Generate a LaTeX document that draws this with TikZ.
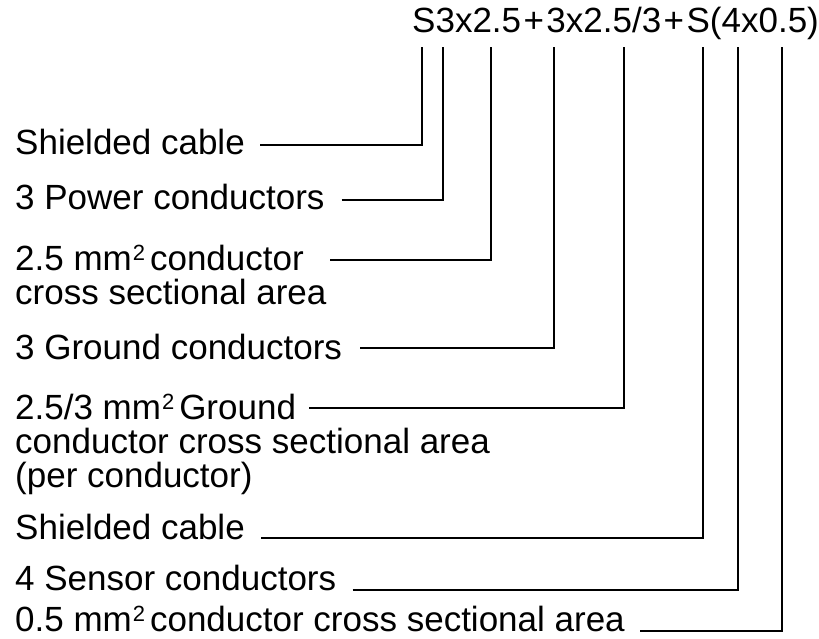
\documentclass[tikz,border=0pt]{standalone}
\usepackage{fontspec}
\setmainfont{Liberation Sans}
\newcommand{\sqm}{mm\hspace{0.03em}\raisebox{10pt}{\fontsize{22}{22}\selectfont 2}\hspace{0.14em}}
\newcommand{\pl}{\hspace{0.07em}+\hspace{0.07em}}
\begin{document}
\begin{tikzpicture}[x=1pt,y=-1pt,
  lbl/.style={anchor=base west, inner sep=0pt, font=\fontsize{35}{35}\selectfont},
  lead/.style={line width=1.8pt, line join=miter}]
\useasboundingbox (0,0) rectangle (819,639);
% code string
\node[lbl] (code) at (412,33) {S3x2.5\pl 3x2.5/3\pl S(4x0.5)};
% tops of the leaders, under the code string
\coordinate (v1) at (421.7,47);
\coordinate (v2) at (442.7,47);
\coordinate (v3) at (490.7,47);
\coordinate (v4) at (554,47);
\coordinate (v5) at (624,47);
\coordinate (v6) at (703.3,47);
\coordinate (v7) at (737.7,47);
\coordinate (v8) at (781.7,47);
% labels
\node[lbl] (l1) at (15,155) {Shielded cable};
\node[lbl] (l2) at (15,210) {3 Power conductors};
\node[lbl] (l3) at (15,270) {2.5 \sqm conductor};
\node[lbl] (l3b) at (15,304) {cross sectional area};
\node[lbl] (l4) at (15,359) {3 Ground conductors};
\node[lbl] (l5) at (15,419) {2.5/3 \sqm Ground};
\node[lbl] (l5b) at (15,453) {conductor cross sectional area};
\node[lbl] (l5c) at (15,487) {(per conductor)};
\node[lbl] (l6) at (15,539) {Shielded cable};
\node[lbl] (l7) at (15,590) {4 Sensor conductors};
\node[lbl] (l8) at (15,631) {0.5 \sqm conductor cross sectional area};
% leader starts after the labels
\coordinate (h1) at (260,145);
\coordinate (h2) at (341.7,200);
\coordinate (h3) at (330,260);
\coordinate (h4) at (360,348.3);
\coordinate (h5) at (309,408.3);
\coordinate (h6) at (261,538);
\coordinate (h7) at (352.5,590);
\coordinate (h8) at (640,631);
% leaders
\draw[lead] (h1) -| (v1);
\draw[lead] (h2) -| (v2);
\draw[lead] (h3) -| (v3);
\draw[lead] (h4) -| (v4);
\draw[lead] (h5) -| (v5);
\draw[lead] (h6) -| (v6);
\draw[lead] (h7) -| (v7);
\draw[lead] (h8) -| (v8);
\end{tikzpicture}
\end{document}
